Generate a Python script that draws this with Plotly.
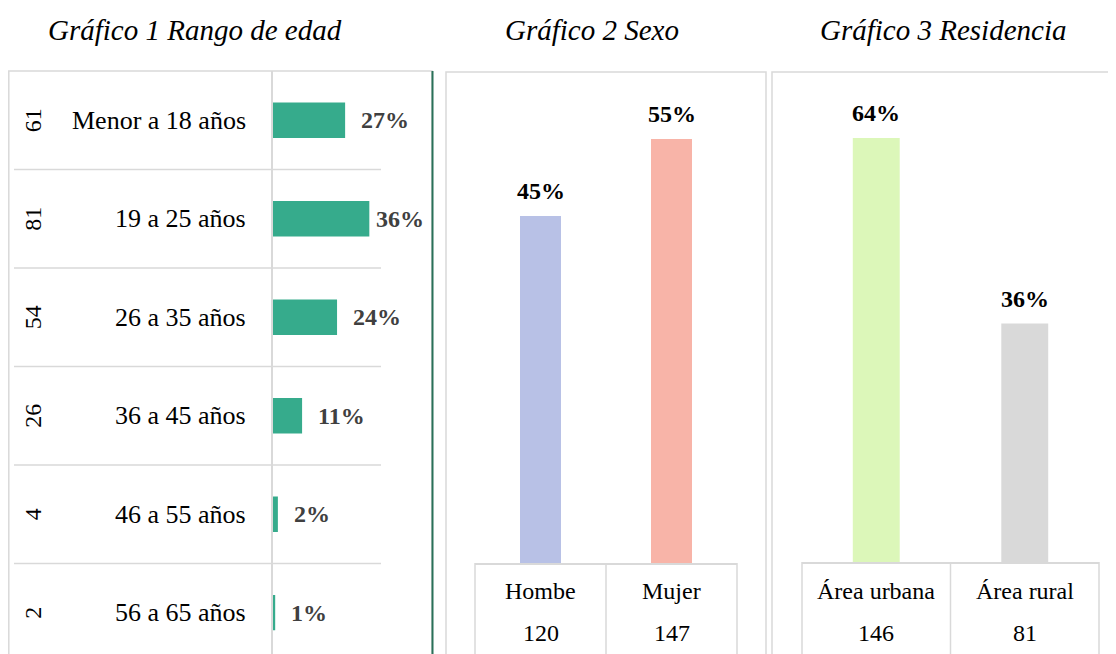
import plotly.graph_objects as go

# datos de la encuesta
edades = ["Menor a 18 años", "19 a 25 años", "26 a 35 años", "36 a 45 años", "46 a 55 años", "56 a 65 años"]
edad_n = [61, 81, 54, 26, 4, 2]
edad_pct = [27, 36, 24, 11, 2, 1]

sexo = ["Hombe", "Mujer"]
sexo_n = [120, 147]
sexo_pct = [45, 55]

residencia = ["Área urbana", "Área rural"]
residencia_n = [146, 81]
residencia_pct = [64, 36]

titulos = ["Gráfico 1 Rango de edad", "Gráfico 2 Sexo", "Gráfico 3 Residencia"]

# la página deja 8 px de margen en el body, así que la figura es 8 px más pequeña
OFF = 8
W, H = 1116 - OFF, 654 - OFF
FONT = "Liberation Serif, Times New Roman, serif"
GRID = "#d9d9d9"


def px(x):
    return (x - OFF) / W


def py(y):
    return 1 - (y - OFF) / H


fig = go.Figure()

# Gráfico 1: barras horizontales
fig.add_trace(go.Bar(
    x=edad_pct, y=edades, orientation="h", width=0.36,
    marker=dict(color="#36ab8c", line=dict(width=0)),
    xaxis="x", yaxis="y", hoverinfo="skip",
))
# Gráfico 2
fig.add_trace(go.Bar(
    x=sexo, y=sexo_pct, width=0.313,
    marker=dict(color=["#b8c1e6", "#f8b4a8"], line=dict(width=0)),
    xaxis="x2", yaxis="y2", hoverinfo="skip",
))
# Gráfico 3
fig.add_trace(go.Bar(
    x=residencia, y=residencia_pct, width=0.316,
    marker=dict(color=["#dcf7b9", "#d9d9d9"], line=dict(width=0)),
    xaxis="x3", yaxis="y3", hoverinfo="skip",
))

ann = []
shapes = []

# títulos
for t, cx in zip(titulos, [195, 592, 943]):
    ann.append(dict(text=f"<i>{t}</i>", x=px(cx), y=py(30), xref="paper", yref="paper",
                    xanchor="center", yanchor="middle", showarrow=False,
                    font=dict(family=FONT, size=29, color="#000000")))

# etiquetas del gráfico 1
for cat, n, p in zip(edades, edad_n, edad_pct):
    ann.append(dict(text=str(n), x=px(33), y=cat, xref="paper", yref="y", xanchor="center",
                    yanchor="middle", showarrow=False, textangle=-90,
                    font=dict(family=FONT, size=24, color="#000000")))
    ann.append(dict(text=cat, x=px(248), y=cat, xref="paper", yref="y", xanchor="right",
                    yanchor="middle", showarrow=False,
                    font=dict(family=FONT, size=26, color="#000000")))
    ann.append(dict(text=f"<b>{p}%</b>", x=p, y=cat, xref="x", yref="y", xanchor="left",
                    yanchor="middle", xshift=5 if p == max(edad_pct) else 14, showarrow=False,
                    font=dict(family=FONT, size=24, color="#404040")))

# líneas de filas del gráfico 1
for i in range(len(edades) - 1):
    shapes.append(dict(type="line", xref="paper", yref="y", x0=px(14), x1=px(381),
                       y0=i + 0.5, y1=i + 0.5, line=dict(color=GRID, width=1.5)))

# etiquetas y tablas de los gráficos 2 y 3
for cats, ns, pcts, xa, ya in [(sexo, sexo_n, sexo_pct, "x2", "y2"),
                                (residencia, residencia_n, residencia_pct, "x3", "y3")]:
    for cat, n, p in zip(cats, ns, pcts):
        ann.append(dict(text=f"<b>{p}%</b>", x=cat, y=p, xref=xa, yref=ya, xanchor="center",
                        yanchor="bottom", yshift=10, showarrow=False,
                        font=dict(family=FONT, size=24, color="#000000")))
        ann.append(dict(text=cat, x=cat, y=py(591), xref=xa, yref="paper", xanchor="center",
                        yanchor="middle", showarrow=False,
                        font=dict(family=FONT, size=24, color="#000000")))
        ann.append(dict(text=str(n), x=cat, y=py(633), xref=xa, yref="paper", xanchor="center",
                        yanchor="middle", showarrow=False,
                        font=dict(family=FONT, size=24, color="#000000")))

# bordes de los paneles y tablas
shapes += [
    dict(type="rect", xref="paper", yref="paper", x0=px(8.8), x1=px(432), y0=-0.05, y1=py(71),
         line=dict(color=GRID, width=1.5)),
    dict(type="line", xref="paper", yref="paper", x0=px(432.5), x1=px(432.5), y0=-0.05, y1=py(71),
         line=dict(color="#2a7159", width=2)),
    dict(type="rect", xref="paper", yref="paper", x0=px(446), x1=px(766), y0=-0.05, y1=py(72),
         line=dict(color=GRID, width=1.5)),
    dict(type="rect", xref="paper", yref="paper", x0=px(772), x1=px(1115), y0=-0.05, y1=py(72),
         line=dict(color=GRID, width=1.5)),
]
for x in [475, 606, 737]:
    shapes.append(dict(type="line", xref="paper", yref="paper", x0=px(x), x1=px(x),
                       y0=-0.05, y1=py(563), line=dict(color=GRID, width=1.5)))
for x in [802, 950.5, 1099]:
    shapes.append(dict(type="line", xref="paper", yref="paper", x0=px(x), x1=px(x),
                       y0=-0.05, y1=py(562), line=dict(color=GRID, width=1.5)))

fig.update_layout(
    width=W, height=H,
    margin=dict(l=0, r=0, t=0, b=0),
    paper_bgcolor="white", plot_bgcolor="rgba(0,0,0,0)",
    showlegend=False,
    font=dict(family=FONT),
    xaxis=dict(domain=[px(272.5), px(432)], range=[0, 59.3], visible=False),
    yaxis=dict(domain=[0, py(71)], range=[5.42, -0.5], showticklabels=False, ticks="",
               showgrid=False, zeroline=False, showline=True, linecolor=GRID, linewidth=1.5),
    xaxis2=dict(domain=[px(475), px(737)], range=[-0.5, 1.5], showticklabels=False, ticks="",
                showline=True, linecolor=GRID, linewidth=1.5, anchor="y2"),
    yaxis2=dict(domain=[py(563), py(100)], range=[0, 60.05], visible=False, anchor="x2"),
    xaxis3=dict(domain=[px(802), px(1099)], range=[-0.5, 1.5], showticklabels=False, ticks="",
                showline=True, linecolor=GRID, linewidth=1.5, anchor="y3"),
    yaxis3=dict(domain=[py(562), py(100)], range=[0, 69.74], visible=False, anchor="x3"),
    annotations=ann,
    shapes=shapes,
)

fig.write_html("out.html")
